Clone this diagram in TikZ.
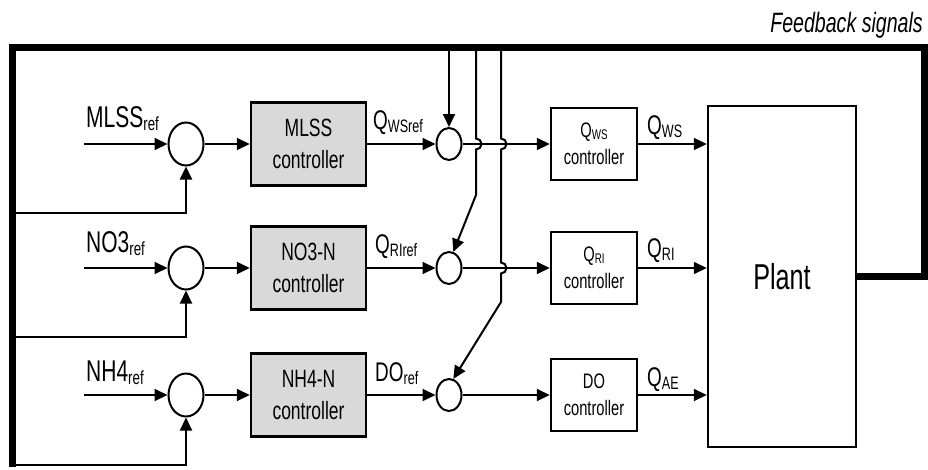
\documentclass[tikz,border=0pt]{standalone}
\usepackage{fontspec}
\setmainfont{Liberation Sans}[FakeStretch=0.7]
\usetikzlibrary{shapes.geometric,arrows.meta}
\definecolor{boxgray}{HTML}{D9D9D9}
\newcommand{\sbt}[1]{\raisebox{-3pt}{\fontsize{19}{19}\selectfont #1}}
\newcommand{\sbl}[1]{\raisebox{-3pt}{\fontsize{18}{18}\selectfont #1}}
\newcommand{\sbq}[1]{\raisebox{-2pt}{\fontsize{14}{14}\selectfont #1}}
\begin{document}
\begin{tikzpicture}[x=1pt,y=-1pt,
  wire/.style={line width=2pt},
  arr/.style={line width=2pt,-{Triangle[length=13pt,width=12pt]}},
  sumA/.style={ellipse,draw,line width=2pt,fill=white,minimum width=35pt,minimum height=43pt,inner sep=0pt},
  sumB/.style={ellipse,draw,line width=2pt,fill=white,minimum width=25pt,minimum height=32pt,inner sep=0pt},
  ctrl/.style={draw,line width=2.5pt,fill=boxgray,minimum width=115pt,minimum height=83pt,inner sep=0pt,align=center,font=\fontsize{25}{32}\selectfont},
  qbox/.style={draw,line width=2.5pt,fill=white,minimum width=86pt,minimum height=72pt,inner sep=0pt,align=center,font=\fontsize{21}{27}\selectfont},
  inlbl/.style={anchor=base west,inner sep=0pt,font=\fontsize{30}{30}\selectfont},
  lbl/.style={anchor=base west,inner sep=0pt,font=\fontsize{27}{27}\selectfont},
  frameline/.style={line width=7pt}
]
\useasboundingbox (0,0) rectangle (928,469);

% nodes
\node[sumA] (s1a) at (186,144) {};
\node[sumA] (s2a) at (186,268) {};
\node[sumA] (s3a) at (186,395) {};
\node[ctrl] (c1) at (308.5,144) {MLSS\\controller};
\node[ctrl] (c2) at (308.5,268) {NO3-N\\controller};
\node[ctrl] (c3) at (308.5,395) {NH4-N\\controller};
\node[sumB] (s1b) at (449,144) {};
\node[sumB] (s2b) at (449,268) {};
\node[sumB] (s3b) at (449,395) {};
\node[qbox] (q1) at (594,144) {Q\sbq{WS}\\controller};
\node[qbox] (q2) at (594,268) {Q\sbq{RI}\\controller};
\node[qbox] (q3) at (594,395) {DO\\controller};
\node[draw,line width=2.5pt,minimum width=148pt,minimum height=341pt,inner sep=0pt,font=\fontsize{36}{36}\selectfont] (plant) at (782,276.5) {Plant};

% coordinates
\coordinate (in1) at (84,144);
\coordinate (in2) at (84,268);
\coordinate (in3) at (84,395);
\coordinate (fR) at (924,276.5);
\coordinate (fTR) at (924,47);
\coordinate (fTL) at (12,47);
\coordinate (fBL) at (12,467);
\coordinate (fb1) at (12,213);
\coordinate (fb2) at (12,337);
\coordinate (fb3) at (12,465);
\coordinate (v1) at (449,47);
\coordinate (v2) at (476,47);
\coordinate (v3) at (501,47);

% feedback frame
\draw[frameline] (plant.east) -- (fR) -- (fTR) -- (fTL) -- (fBL);

% signal paths
\draw[arr] (in1) -- (s1a.west);
\draw[arr] (in2) -- (s2a.west);
\draw[arr] (in3) -- (s3a.west);
\draw[arr] (fb1) -| (s1a.south);
\draw[arr] (fb2) -| (s2a.south);
\draw[arr] (fb3) -| (s3a.south);
\draw[arr] (s1a.east) -- (c1.west);
\draw[arr] (s2a.east) -- (c2.west);
\draw[arr] (s3a.east) -- (c3.west);
\draw[arr] (c1.east) -- (s1b.west);
\draw[arr] (c2.east) -- (s2b.west);
\draw[arr] (c3.east) -- (s3b.west);
\draw[arr] (s1b.east) -- (q1.west);
\draw[arr] (s2b.east) -- (q2.west);
\draw[arr] (s3b.east) -- (q3.west);
\draw[arr] (q1.east) -- (q1.east -| plant.west);
\draw[arr] (q2.east) -- (q2.east -| plant.west);
\draw[arr] (q3.east) -- (q3.east -| plant.west);

% feedback verticals
\draw[arr] (v1) -- (s1b.north);
\draw[arr] (v2) -- (476,138.5) arc[start angle=-90,end angle=90,radius=5.5] -- (476,195) -- (s2b.75);
\draw[arr] (v3) -- (501,138.5) arc[start angle=-90,end angle=90,radius=5.5] -- (501,262.5) arc[start angle=-90,end angle=90,radius=5.5] -- (501,302) -- (s3b.75);

% labels
\node[inlbl] (l1) at (86,127) {MLSS\sbt{ref}};
\node[inlbl] (l2) at (86,252) {NO3\sbt{ref}};
\node[inlbl] (l3) at (86,381) {NH4\sbt{ref}};
\node[lbl] (l4) at (373,129) {Q\sbl{WSref}};
\node[lbl] (l5) at (375,253) {Q\sbl{RIref}};
\node[lbl] (l6) at (375,381) {DO\sbl{ref}};
\node[lbl] (l7) at (647,134) {Q\sbl{WS}};
\node[lbl] (l8) at (647,257) {Q\sbl{RI}};
\node[lbl] (l9) at (647,386) {Q\sbl{AE}};
\node[anchor=base east,inner sep=0pt,font=\itshape\fontsize{28}{28}\selectfont] (fs) at (923,32) {Feedback signals};
\end{tikzpicture}
\end{document}
